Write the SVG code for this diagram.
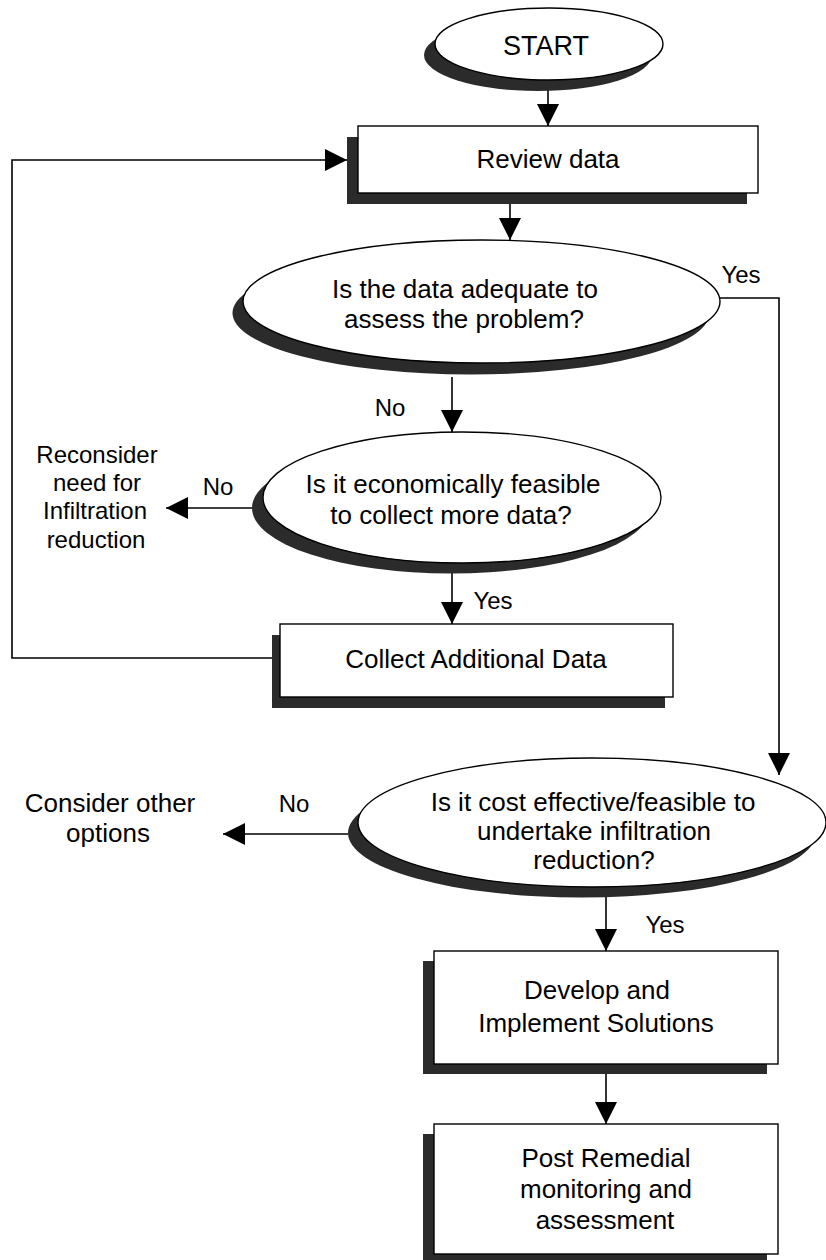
<svg xmlns="http://www.w3.org/2000/svg" width="826" height="1260" viewBox="0 0 826 1260">
<style>
.sh{fill:#2b2b2b;stroke:none}
.nd{fill:#fff;stroke:#000;stroke-width:1.4}
.t{font-family:"Liberation Sans",Arial,sans-serif;font-size:26px;fill:#000;text-anchor:middle}
.s{font-family:"Liberation Sans",Arial,sans-serif;font-size:24px;fill:#000;text-anchor:middle}
.c{fill:none;stroke:#000;stroke-width:1.6}
</style>
<defs>
<marker id="ah" markerUnits="userSpaceOnUse" markerWidth="22" markerHeight="22" refX="22" refY="11" orient="auto">
<path d="M0,0 L22,11 L0,22 z" fill="#000"/>
</marker>
</defs>
<rect width="826" height="1260" fill="#fff"/>
<g id="connectors">
<path class="c" d="M548,80 V126" marker-end="url(#ah)"/>
<path class="c" d="M510,204 V240" marker-end="url(#ah)"/>
<path class="c" d="M452,377 V432" marker-end="url(#ah)"/>
<path class="c" d="M452,573 V624" marker-end="url(#ah)"/>
<path class="c" d="M252,508 H166" marker-end="url(#ah)"/>
<path class="c" d="M272,658 H12 V160 H347" marker-end="url(#ah)"/>
<path class="c" d="M720,298 H779 V775" marker-end="url(#ah)"/>
<path class="c" d="M348,834 H223" marker-end="url(#ah)"/>
<path class="c" d="M606,897 V951" marker-end="url(#ah)"/>
<path class="c" d="M606,1073 V1124" marker-end="url(#ah)"/>
</g>
<g id="start">
<ellipse class="sh" cx="538" cy="55" rx="114" ry="36"/>
<ellipse class="nd" cx="549" cy="44" rx="114" ry="36"/>
<text class="t" x="546" y="55" style="font-size:27px">START</text>
</g>
<g id="review">
<rect class="sh" x="347" y="137" width="400" height="67"/>
<rect class="nd" x="358" y="126" width="400" height="67"/>
<text class="t" x="548" y="168">Review data</text>
</g>
<g id="q-adequate">
<ellipse class="sh" cx="471" cy="313" rx="238.5" ry="61.5"/>
<ellipse class="nd" cx="481.5" cy="301.5" rx="238.5" ry="61.5"/>
<text class="t" x="465" y="298">Is the data adequate to</text>
<text class="t" x="464" y="328">assess the problem?</text>
</g>
<g id="q-economic">
<ellipse class="sh" cx="451" cy="508" rx="199" ry="65.5"/>
<ellipse class="nd" cx="462" cy="497.5" rx="199" ry="65.5"/>
<text class="t" x="453" y="493">Is it economically feasible</text>
<text class="t" x="451" y="524">to collect more data?</text>
</g>
<g id="reconsider">
<text class="s" x="97" y="463">Reconsider</text>
<text class="s" x="97" y="491">need for</text>
<text class="s" x="95" y="519">Infiltration</text>
<text class="s" x="96" y="548">reduction</text>
</g>
<g id="collect">
<rect class="sh" x="272" y="635" width="393" height="73"/>
<rect class="nd" x="280" y="624" width="393" height="73"/>
<text class="t" x="476" y="668">Collect Additional Data</text>
</g>
<g id="q-cost">
<ellipse class="sh" cx="582" cy="833" rx="234" ry="64.5"/>
<ellipse class="nd" cx="592" cy="822.5" rx="234" ry="64.5"/>
<text class="t" x="593" y="811">Is it cost effective/feasible to</text>
<text class="t" x="594" y="840">undertake infiltration</text>
<text class="t" x="594" y="869">reduction?</text>
</g>
<g id="consider">
<text class="t" x="110" y="812">Consider other</text>
<text class="t" x="108" y="842">options</text>
</g>
<g id="develop">
<rect class="sh" x="423" y="961" width="344" height="113"/>
<rect class="nd" x="434" y="951" width="344" height="113"/>
<text class="t" x="597" y="999">Develop and</text>
<text class="t" x="596" y="1032">Implement Solutions</text>
</g>
<g id="post">
<rect class="sh" x="423" y="1134" width="344" height="130"/>
<rect class="nd" x="434" y="1124" width="344" height="130"/>
<text class="t" x="606" y="1167">Post Remedial</text>
<text class="t" x="606" y="1198">monitoring and</text>
<text class="t" x="605" y="1229">assessment</text>
</g>
<g id="labels">
<text class="s" x="741" y="283">Yes</text>
<text class="s" x="390" y="416">No</text>
<text class="s" x="218" y="495">No</text>
<text class="s" x="493" y="609">Yes</text>
<text class="s" x="294" y="812">No</text>
<text class="s" x="665" y="933">Yes</text>
</g>
</svg>
